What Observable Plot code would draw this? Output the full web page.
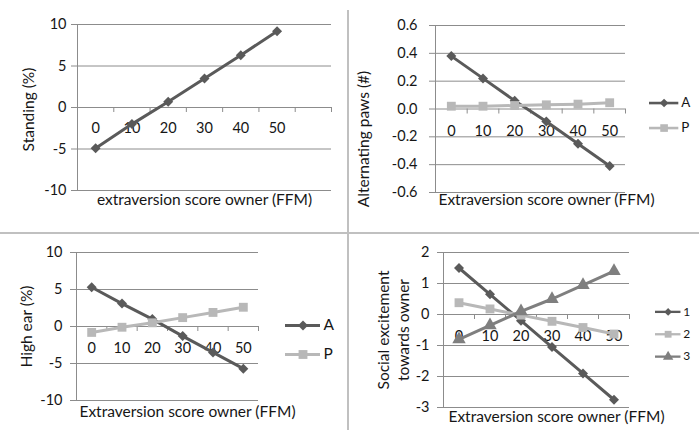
<!DOCTYPE html>
<html>
<head>
<meta charset="utf-8">
<script src="https://cdn.jsdelivr.net/npm/d3@7"></script>
<script src="https://cdn.jsdelivr.net/npm/@observablehq/plot@0.6"></script>
<style>
  html, body { margin: 0; padding: 0; background: #fff; }
  #fig { position: relative; width: 699px; height: 430px; overflow: hidden; font-family: Lato, "Liberation Sans", sans-serif; }
  .box { position: absolute; }
  .vdiv { position: absolute; left: 347px; top: 10px; width: 2px; height: 420px; background: #c0c0c0; }
  .hdiv { position: absolute; left: 0; top: 232px; width: 699px; height: 2px; background: #c0c0c0; }
</style>
</head>
<body>
<div id="fig">
  <div class="vdiv"></div>
  <div class="hdiv"></div>
</div>
<script>
// Owner extraversion score (FFM), shared category axis of all four panels
const extraversion = [0, 10, 20, 30, 40, 50];

// Standing (%)
const standing = [-4.9, -2.0, 0.7, 3.5, 6.3, 9.2];
// Alternating paws (#), groups A and P
const pawsA = [0.38, 0.22, 0.06, -0.09, -0.25, -0.41];
const pawsP = [0.02, 0.02, 0.025, 0.03, 0.035, 0.045];
// High ear (%), groups A and P
const earA = [5.3, 3.1, 1.0, -1.3, -3.5, -5.7];
const earP = [-0.8, -0.1, 0.5, 1.2, 1.9, 2.6];
// Social excitement towards owner, groups 1, 2 and 3
const social1 = [1.5, 0.65, -0.2, -1.05, -1.9, -2.75];
const social2 = [0.38, 0.18, -0.02, -0.22, -0.42, -0.63];
const social3 = [-0.8, -0.35, 0.1, 0.5, 0.95, 1.4];

// Value-axis tick labels
const standingTicks = [-10, -5, 0, 5, 10];
const pawsTicks = [-0.6, -0.4, -0.2, 0, 0.2, 0.4, 0.6];
const earTicks = [-10, -5, 0, 5, 10];
const socialTicks = [-3, -2, -1, 0, 1, 2];

const GRID = "#8c8c8c";
const INK = "#161616";
const DARK = "#5a5a5a", LIGHT = "#b8b8b8", MID = "#7f7f7f";
const FONT = "Lato, 'Liberation Sans', sans-serif";
const TICK_SIZE = 14.5, TITLE_SIZE = 15.5;

const fig = document.getElementById("fig");

function place(node, left, top) {
  const wrap = document.createElement("div");
  wrap.className = "box";
  wrap.style.left = left + "px";
  wrap.style.top = top + "px";
  wrap.appendChild(node);
  fig.appendChild(wrap);
}

function seriesMarks(s) {
  const rows = extraversion.map((x, i) => ({x, y: s.values[i]}));
  return [
    Plot.line(rows, {x: "x", y: "y", stroke: s.color, strokeWidth: 3}),
    Plot.dot(rows, {x: "x", y: "y", symbol: s.symbol, r: s.r, fill: s.color, stroke: "none"})
  ];
}

function panel(p) {
  const [x0, x1] = p.xDomain;
  const boundaries = d3.range(x0 + 10, x1 + 1, 10);
  return Plot.plot({
    width: p.width, height: p.height,
    marginLeft: p.margin[0], marginRight: p.margin[1], marginTop: p.margin[2], marginBottom: p.margin[3],
    style: {fontFamily: FONT, background: "transparent", overflow: "visible"},
    x: {domain: p.xDomain, axis: null},
    y: {domain: [p.yTicks[0], p.yTicks[p.yTicks.length - 1]]},
    marks: [
      Plot.ruleY(p.yTicks, {stroke: GRID}),
      Plot.ruleX([x0], {stroke: GRID}),
      Plot.ruleX(boundaries, {y1: 0, y2: 0, insetBottom: -5, stroke: GRID}),
      Plot.axisY({ticks: p.yTicks, tickSize: 6, tickPadding: p.tickPadding, stroke: GRID, fill: INK,
                  tickFormat: p.yFormat, label: null, fontSize: TICK_SIZE}),
      Plot.text(extraversion, {x: d => d, y: 0, dy: p.labelDy, text: d => String(d), fill: INK, fontSize: TICK_SIZE}),
      Plot.text([p.xTitle], {frameAnchor: "bottom", textAnchor: "middle", dx: p.xTitleDx, dy: p.xTitleDy,
                             fill: INK, fontSize: TITLE_SIZE}),
      Plot.text([p.yTitle], {frameAnchor: "left", textAnchor: "middle", dx: p.yTitleDx, dy: p.yTitleDy,
                             rotate: -90, fill: INK, fontSize: TITLE_SIZE, lineHeight: 1.3}),
      ...p.series.flatMap(seriesMarks)
    ]
  });
}

function legend(items, spacing, lineLen) {
  const names = items.map(d => d.name);
  return Plot.plot({
    width: lineLen + 24, height: spacing * (items.length - 1) + 20,
    marginLeft: 0, marginRight: 24, marginTop: 10, marginBottom: 10,
    style: {fontFamily: FONT, background: "transparent"},
    x: {domain: [0, 1], axis: null},
    y: {type: "point", domain: names, padding: 0, axis: null},
    marks: items.flatMap(s => [
      Plot.ruleY([s.name], {x1: 0, x2: 1, stroke: s.color, strokeWidth: 3}),
      Plot.dot([s.name], {x: 0.5, y: d => d, symbol: s.symbol, r: s.r, fill: s.color, stroke: "none"}),
      Plot.text([s.name], {x: 1, y: d => d, dx: 3, text: d => d, textAnchor: "start", fill: INK, fontSize: TITLE_SIZE})
    ])
  });
}

const A = (values) => ({name: "A", values, color: DARK, symbol: "diamond2", r: 4.5});
const P = (values) => ({name: "P", values, color: LIGHT, symbol: "square", r: 5});

// Top left: standing
place(panel({
  width: 345, height: 228, margin: [77, 14, 24, 38],
  xDomain: [-5, 65], yTicks: standingTicks, yFormat: d => String(d), tickPadding: 5,
  labelDy: 21, xTitle: "extraversion score owner (FFM)", xTitleDx: 0, xTitleDy: 14,
  yTitle: "Standing (%)", yTitleDx: -50, yTitleDy: 2,
  series: [{name: "Standing", values: standing, color: DARK, symbol: "diamond2", r: 4.5}]
}), 0, 0);

// Top right: alternating paws
const pawsSeries = [A(pawsA), P(pawsP)];
place(panel({
  width: 350, height: 228, margin: [86, 74, 25, 36],
  xDomain: [-5, 55], yTicks: pawsTicks, yFormat: d => d.toFixed(1), tickPadding: 12,
  labelDy: 22, xTitle: "Extraversion score owner (FFM)", xTitleDx: 16, xTitleDy: 12,
  yTitle: "Alternating paws (#)", yTitleDx: -73, yTitleDy: 30,
  series: pawsSeries
}), 349, 0);
place(legend(pawsSeries, 29, 34), 649, 94);

// Bottom left: high ear
const earSeries = [A(earA), P(earP)];
place(panel({
  width: 345, height: 196, margin: [76, 87, 18, 30],
  xDomain: [-5, 55], yTicks: earTicks, yFormat: d => String(d), tickPadding: 8,
  labelDy: 22, xTitle: "Extraversion score owner (FFM)", xTitleDx: 20, xTitleDy: 16,
  yTitle: "High ear (%)", yTitleDx: -51, yTitleDy: 0,
  series: earSeries
}), 0, 234);
place(legend(earSeries, 29, 35), 285, 315);

// Bottom right: social excitement
const socialSeries = [
  {name: "1", values: social1, color: DARK, symbol: "diamond2", r: 4.5},
  {name: "2", values: social2, color: LIGHT, symbol: "square", r: 5},
  {name: "3", values: social3, color: MID, symbol: "triangle", r: 5}
];
place(panel({
  width: 350, height: 196, margin: [94, 70, 18, 23],
  xDomain: [-5, 55], yTicks: socialTicks, yFormat: d => String(d), tickPadding: 8,
  labelDy: 22, xTitle: "Extraversion score owner (FFM)", xTitleDx: 20, xTitleDy: 14,
  yTitle: "Social excitement\ntowards owner", yTitleDx: -51, yTitleDy: 0,
  series: socialSeries
}), 349, 234);
place(legend(socialSeries, 29.5, 33), 655, 303);
</script>
</body>
</html>
